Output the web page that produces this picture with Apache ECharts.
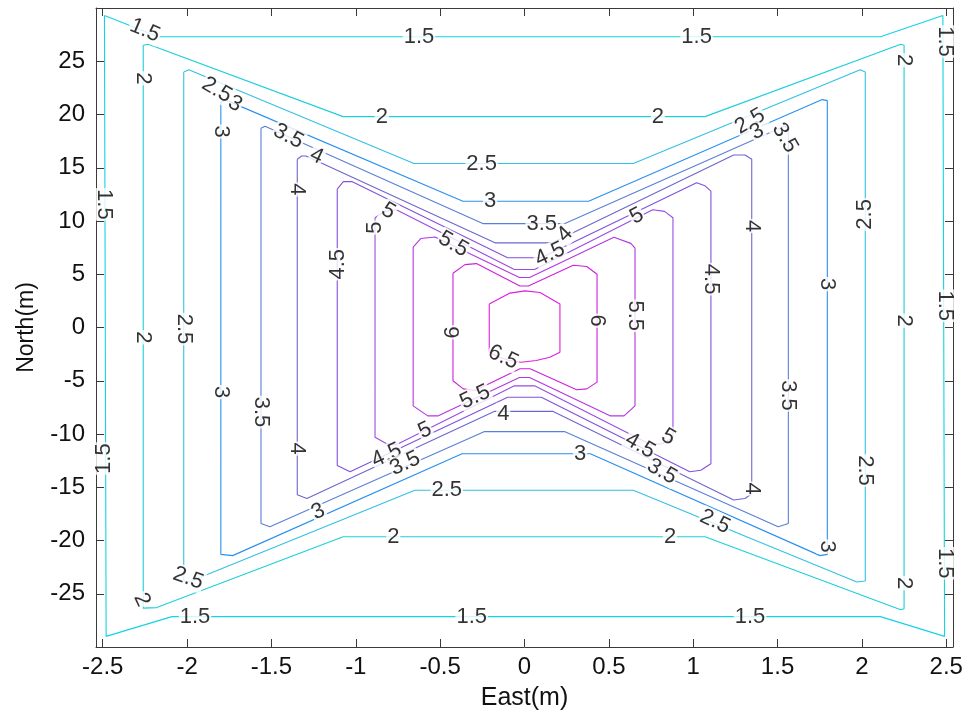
<!DOCTYPE html>
<html>
<head>
<meta charset="utf-8">
<script src="https://cdn.jsdelivr.net/npm/echarts@6/dist/echarts.min.js"></script>
<style>
  html, body { margin: 0; padding: 0; background: #ffffff; }
  #chart { width: 968px; height: 716px; }
</style>
</head>
<body>
<div id="chart"></div>
<script>
// Contour levels of the field, outermost to innermost
const levels = [1.5, 2, 2.5, 3, 3.5, 4, 4.5, 5, 5.5, 6, 6.5];

// Each contour is a closed path of [East, North] vertices
const contour15 = [[-2.49, 29.3], [-2.17, 27.3], [2.11, 27.3], [2.48, 29.3], [2.49, 29.2], [2.49, -29.0], [2.48, -29.1], [2.11, -27.15], [-2.09, -27.15], [-2.48, -29.0], [-2.49, -28.9], [-2.49, 29.3]];
const contour20 = [[-2.26, 26.5], [-2.23, 26.6], [-1.075, 19.8], [1.07, 19.8], [2.23, 26.6], [2.25, 26.5], [2.25, -26.4], [2.23, -26.5], [1.07, -19.65], [-1.075, -19.65], [-2.18, -26.3], [-2.26, -26.35], [-2.26, 26.5]];
const contour25 = [[-2.02, 24.0], [-1.99, 24.2], [-0.655, 15.4], [0.645, 15.4], [1.99, 24.2], [2.02, 24.0], [2.02, -23.8], [1.97, -23.9], [0.645, -15.28], [-0.65, -15.28], [-1.99, -23.9], [-2.02, -23.8], [-2.02, 24.0]];
const contour30 = [[-1.80, 21.2], [-1.77, 21.35], [-0.365, 11.85], [0.38, 11.85], [1.765, 21.4], [1.795, 21.3], [1.795, -21.3], [1.752, -21.42], [0.39, -11.85], [-0.37, -11.85], [-1.73, -21.42], [-1.80, -21.3], [-1.80, 21.2]];
const contour35 = [[-1.562, 18.7], [-1.538, 18.9], [-0.244, 9.75], [0.236, 9.75], [1.54, 18.9], [1.564, 18.7], [1.564, -18.4], [1.504, -18.7], [0.24, -9.78], [-0.24, -9.78], [-1.509, -18.7], [-1.562, -18.4], [-1.562, 18.7]];
const contour40 = [[-1.347, 15.8], [-1.321, 16.1], [-1.295, 16.1], [-0.175, 7.95], [0.165, 7.95], [1.24, 16.2], [1.307, 16.2], [1.347, 15.8], [1.347, -15.6], [1.307, -16.05], [1.24, -16.2], [0.17, -7.88], [-0.18, -7.88], [-1.29, -16.05], [-1.347, -15.7], [-1.347, 15.8]];
const contour45 = [[-1.11, 13.0], [-1.074, 13.7], [-1.024, 13.7], [-0.1, 6.55], [0.1, 6.55], [1.02, 13.6], [1.07, 13.3], [1.105, 12.8], [1.105, -12.8], [1.045, -13.4], [0.98, -13.55], [0.1, -6.55], [-0.1, -6.55], [-1.034, -13.55], [-1.11, -12.95], [-1.11, 13.0]];
const contour50 = [[-0.886, 10.3], [-0.83, 10.9], [-0.76, 11.05], [-0.06, 5.45], [0.06, 5.45], [0.76, 11.05], [0.83, 10.9], [0.88, 10.3], [0.88, -10.3], [0.82, -10.9], [0.75, -11.0], [0.06, -5.48], [-0.06, -5.48], [-0.76, -11.0], [-0.82, -10.9], [-0.886, -10.3], [-0.886, 10.3]];
const contour55 = [[-0.66, 7.55], [-0.615, 8.35], [-0.53, 8.5], [-0.03, 4.7], [0.03, 4.7], [0.53, 8.48], [0.63, 7.9], [0.655, 7.45], [0.655, -7.36], [0.59, -8.3], [0.51, -8.3], [0.03, -4.7], [-0.03, -4.7], [-0.514, -8.3], [-0.573, -8.3], [-0.66, -7.36], [-0.66, 7.55]];
const contour60 = [[-0.424, 5.1], [-0.353, 5.9], [-0.285, 6.0], [-0.027, 3.9], [0.023, 3.9], [0.289, 5.85], [0.369, 5.73], [0.43, 5.0], [0.43, -5.13], [0.369, -5.76], [0.309, -5.85], [0.033, -3.88], [-0.027, -3.88], [-0.293, -5.92], [-0.363, -5.76], [-0.424, -5.0], [-0.424, 5.1]];
const contour65 = [[-0.209, 2.2], [-0.086, 3.23], [0.003, 3.44], [0.092, 3.29], [0.21, 2.2], [0.21, -2.32], [0.15, -2.79], [0.07, -3.1], [-0.02, -3.26], [-0.09, -3.1], [-0.15, -2.79], [-0.209, -2.32], [-0.209, 2.2]];

const contours = [contour15, contour20, contour25, contour30, contour35, contour40, contour45, contour50, contour55, contour60, contour65];

// Line colour for each level (cyan through blue-violet to magenta)
const levelColors = ['#12d4e4', '#1ccfdc', '#33c0e6', '#2a90f0', '#5a7fd6', '#6d66cf', '#8351dc', '#9a4be2', '#b436e2', '#cf1fdc', '#e01cde'];

// Axis ticks
const xTicks = [-2.5, -2, -1.5, -1, -0.5, 0, 0.5, 1, 1.5, 2, 2.5];
const yTicks = [-25, -20, -15, -10, -5, 0, 5, 10, 15, 20, 25];

// Inline contour labels: [East, North, level]
const labelAnchors = [
  [-2.25, 27.9, 1.5], [-0.625, 27.3, 1.5], [1.02, 27.3, 1.5], [2.49, 26.85, 1.5],
  [-2.26, 23.4, 2], [-0.846, 19.8, 2], [0.791, 19.8, 2], [2.25, 25.1, 2],
  [-1.824, 22.3, 2.5], [-1.716, 21.0, 3], [-1.80, 18.4, 3], [-1.40, 17.95, 3.5],
  [-1.232, 16.1, 4], [-1.347, 12.96, 4], [-0.254, 15.4, 2.5], [-0.2045, 11.85, 3],
  [0.102, 9.72, 3.5], [0.24, 8.75, 4], [0.151, 6.88, 4.5], [-0.422, 7.82, 5.5],
  [-0.807, 10.93, 5], [-0.886, 9.38, 5], [-1.107, 5.94, 4.5], [-0.424, -0.45, 6],
  [0.43, 0.64, 6], [-0.126, -2.79, 6.5], [0.655, 1.1, 5.5], [1.105, 4.54, 4.5],
  [1.347, 9.53, 4], [0.665, 10.47, 5], [1.337, 19.36, 2.5], [1.378, 18.39, 3],
  [1.544, 17.8, 3.5], [2.02, 10.62, 2.5], [1.795, 4.07, 3], [2.25, 0.64, 2],
  [2.49, 2.04, 1.5], [1.564, -6.38, 3.5], [2.02, -13.43, 2.5], [2.49, -22.14, 1.5],
  [2.25, -24.0, 2], [1.795, -20.57, 3], [1.347, -15.12, 4], [1.129, -18.23, 2.5],
  [1.337, -27.15, 1.5], [-0.313, -27.15, 1.5], [-1.953, -27.2, 1.5], [0.8625, -19.65, 2],
  [-0.778, -19.65, 2], [-0.461, -15.28, 2.5], [-1.993, -23.54, 2.5], [-2.269, -25.57, 2],
  [-1.222, -17.3, 3], [0.329, -11.85, 3], [-1.80, -6.07, 3], [-1.562, -7.94, 3.5],
  [-2.02, -0.14, 2.5], [-2.26, -0.92, 2], [-2.49, 11.56, 1.5], [-2.49, -12.31, 1.5],
  [-1.347, -11.37, 4], [-0.817, -12.0, 4.5], [-0.708, -12.78, 3.5], [-0.59, -9.66, 5],
  [-0.293, -6.53, 5.5], [-0.126, -8.1, 4], [0.852, -10.28, 5], [0.685, -11.09, 4.5],
  [0.815, -13.53, 3.5]
];
// Text angle of each label, in degrees
const labelAngles = [
  -23, 0, 0, -90,
  -90, 0, 0, -90,
  -30, -30, -90, -28,
  -25, -90, 0, 0,
  0, 45, 25, -30,
  -30, 90, 90, 90,
  -90, -25, -90, -90,
  -90, 28, 30, 30,
  -60, 90, -90, -90,
  -90, -90, -90, -90,
  -90, -90, -90, -25,
  0, 0, 0, 0,
  0, 0, -20, -65,
  25, 0, -90, -90,
  -90, -90, -90, 90,
  -90, 25, 25, 25,
  25, 0, -30, -30,
  -30
];

const FONT = 'Liberation Sans, Arial, Helvetica, sans-serif';

const chart = echarts.init(document.getElementById('chart'), null, { renderer: 'canvas' });

const contourSeries = contours.map((path, i) => ({
  type: 'line',
  name: String(levels[i]),
  data: path,
  showSymbol: false,
  symbol: 'none',
  smooth: false,
  silent: true,
  z: 2,
  lineStyle: { color: levelColors[i], width: 1.1 }
}));

const labelSeries = {
  type: 'scatter',
  silent: true,
  z: 5,
  symbolSize: 1,
  itemStyle: { color: 'rgba(0,0,0,0)' },
  data: labelAnchors.map((a, i) => ({
    value: [a[0], a[1]],
    label: {
      show: true,
      position: 'inside',
      formatter: String(a[2]),
      rotate: labelAngles[i],
      fontSize: 22,
      fontFamily: FONT,
      color: '#000',
      backgroundColor: '#ffffff',
      padding: [0, 1]
    }
  }))
};

const axisCommon = {
  type: 'value',
  splitLine: { show: false },
  axisLine: { show: true, onZero: false, lineStyle: { color: '#3a3a3a', width: 1 } },
};

chart.setOption({
  animation: false,
  backgroundColor: '#ffffff',
  grid: { left: 96, right: 15, top: 8, bottom: 67 },
  xAxis: [
    Object.assign({}, axisCommon, {
      position: 'bottom', min: -2.54, max: 2.54,
      name: 'East(m)', nameLocation: 'middle', nameGap: 39,
      nameTextStyle: { fontSize: 25, fontFamily: FONT, color: '#111' },
      axisTick: { show: true, inside: true, length: 8, customValues: xTicks, lineStyle: { color: '#3a3a3a' } },
      axisLabel: { show: true, customValues: xTicks, fontSize: 24, fontFamily: FONT, color: '#111', margin: 8 }
    }),
    Object.assign({}, axisCommon, {
      position: 'top', min: -2.54, max: 2.54,
      axisTick: { show: true, inside: true, length: 8, customValues: xTicks, lineStyle: { color: '#3a3a3a' } },
      axisLabel: { show: false }
    })
  ],
  yAxis: [
    Object.assign({}, axisCommon, {
      position: 'left', min: -30, max: 30,
      name: 'North(m)', nameLocation: 'middle', nameGap: 58, nameRotate: 90,
      nameTextStyle: { fontSize: 23, fontFamily: FONT, color: '#111' },
      axisTick: { show: true, inside: true, length: 8, customValues: yTicks, lineStyle: { color: '#3a3a3a' } },
      axisLabel: { show: true, customValues: yTicks, fontSize: 24, fontFamily: FONT, color: '#111', margin: 11 }
    }),
    Object.assign({}, axisCommon, {
      position: 'right', min: -30, max: 30,
      axisTick: { show: true, inside: true, length: 8, customValues: yTicks, lineStyle: { color: '#3a3a3a' } },
      axisLabel: { show: false }
    })
  ],
  series: contourSeries.concat([labelSeries])
});
</script>
</body>
</html>
